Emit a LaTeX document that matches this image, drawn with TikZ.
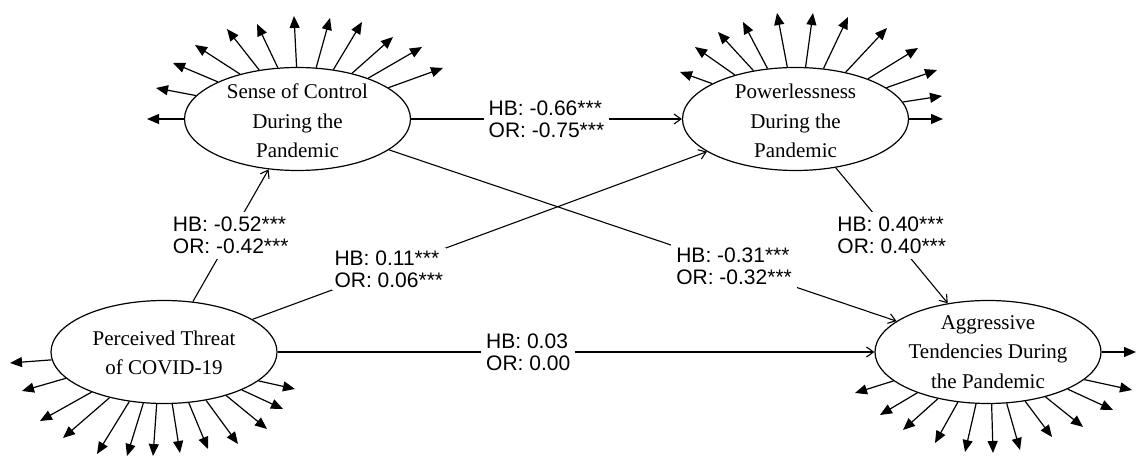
\documentclass[tikz,border=0pt]{standalone}
\usepackage{fontspec}
\newfontfamily\labfont{Liberation Sans}
\newfontfamily\varfont{Liberation Serif}
\usetikzlibrary{shapes.geometric,arrows.meta,calc}

\begin{document}
\begin{tikzpicture}[x=1pt,y=1pt,
  latent/.style={ellipse, draw, line width=1.2pt, minimum width=226pt,
    minimum height=103pt, inner sep=0pt},
  vtext/.style={align=center, font=\varfont\fontsize{21}{29.5}\selectfont, inner sep=0pt},
  resid/.style={line width=1.2pt, -{Triangle[length=12pt,width=10pt]}},
  conn/.style={line width=1.1pt, -{Straight Barb[length=7pt,width=10pt]}},
  coef/.style={fill=white, align=left,
    font=\labfont\fontsize{21}{22}\selectfont, inner sep=5pt}]
\useasboundingbox (0,0) rectangle (1137,455);

% latent variables
\node[latent] (S) at (297.5,336) {};
\node[latent] (W) at (795.5,336) {};
\node[latent] (P) at (164,103) {};
\node[latent] (A) at (988,103) {};

\node[vtext] (St) at ($(S.center)+(0,-2)$) {Sense of Control\\During the\\Pandemic};
\node[vtext] (Wt) at ($(W.center)+(0,-2)$) {Powerlessness\\During the\\Pandemic};
\node[vtext] (Pt) at ($(P.center)+(0,-1)$) {Perceived Threat\\of COVID-19};
\node[vtext] (At) at (A.center) {Aggressive\\Tendencies During\\the Pandemic};

% indicator arrows: start angle on the ellipse / tip offset from its centre
\foreach \a/\dx/\dy in {180/-150.5/0, 167.9/-141.5/31, 155.7/-124.5/56,
    142.5/-102.5/74, 128.5/-70.5/90, 111.4/-40.5/95, 91/-3.5/103,
    70.6/32.5/101, 54.5/64.5/97, 40/95.5/82, 30/124.5/72, 19.4/145.5/51}
  \draw[resid] (S.\a) -- ($(S.center)+(\dx,\dy)$);

\foreach \a/\dx/\dy in {157.7/-115.5/47, 144.2/-100.5/72, 131.6/-77.5/87,
    119.2/-52.5/97, 99.3/-18.5/106, 79.6/17.5/106, 61.7/52.5/102,
    43.5/91.5/91, 29.8/122.5/71, 19.5/141.5/49, 9.5/146.5/23, 0/147.5/0}
  \draw[resid] (W.\a) -- ($(W.center)+(\dx,\dy)$);

\foreach \a/\dx/\dy in {184.6/-154/-11, 195.8/-142/-39, 209.6/-124/-69,
    220.6/-101/-86, 235.3/-67/-102, 248.4/-37/-104, 262.6/-11/-104,
    279.6/16/-101, 296/44/-97, 311.3/74/-92, 325/103/-77, 334.9/119/-57,
    343.5/131/-37}
  \draw[resid] (P.\a) -- ($(P.center)+(\dx,\dy)$);

\foreach \a/\dx/\dy in {197/-133/-41, 210.6/-108/-63, 223.8/-85/-78,
    239.5/-53/-91, 257.2/-23/-100, 274.3/5/-101, 290/32/-98,
    307.2/64/-85, 322.7/95/-75, 335.7/125/-58, 344.7/144/-38, 0/148/0}
  \draw[resid] (A.\a) -- ($(A.center)+(\dx,\dy)$);

% structural paths with coefficients
\draw[conn] (P) -- (S) node[coef, pos=0.5] (cPS) {HB: -0.52***\\OR: -0.42***};
\draw[conn] (S) -- (W) node[coef, pos=0.5] (cSW) {HB: -0.66***\\OR: -0.75***};
\draw[conn] (P) -- (W) node[coef, pos=0.3, inner sep=3pt] (cPW) {HB: 0.11***\\OR: 0.06***};
\draw[conn] (S) -- (A) node[coef, pos=0.68] (cSA) {HB: -0.31***\\OR: -0.32***};
\draw[conn] (W) -- (A) node[coef, pos=0.5] (cWA) {HB: 0.40***\\OR: 0.40***};
\draw[conn] (P) -- (A) node[coef, pos=0.42] (cPA) {HB: 0.03\\OR: 0.00};
\end{tikzpicture}
\end{document}
